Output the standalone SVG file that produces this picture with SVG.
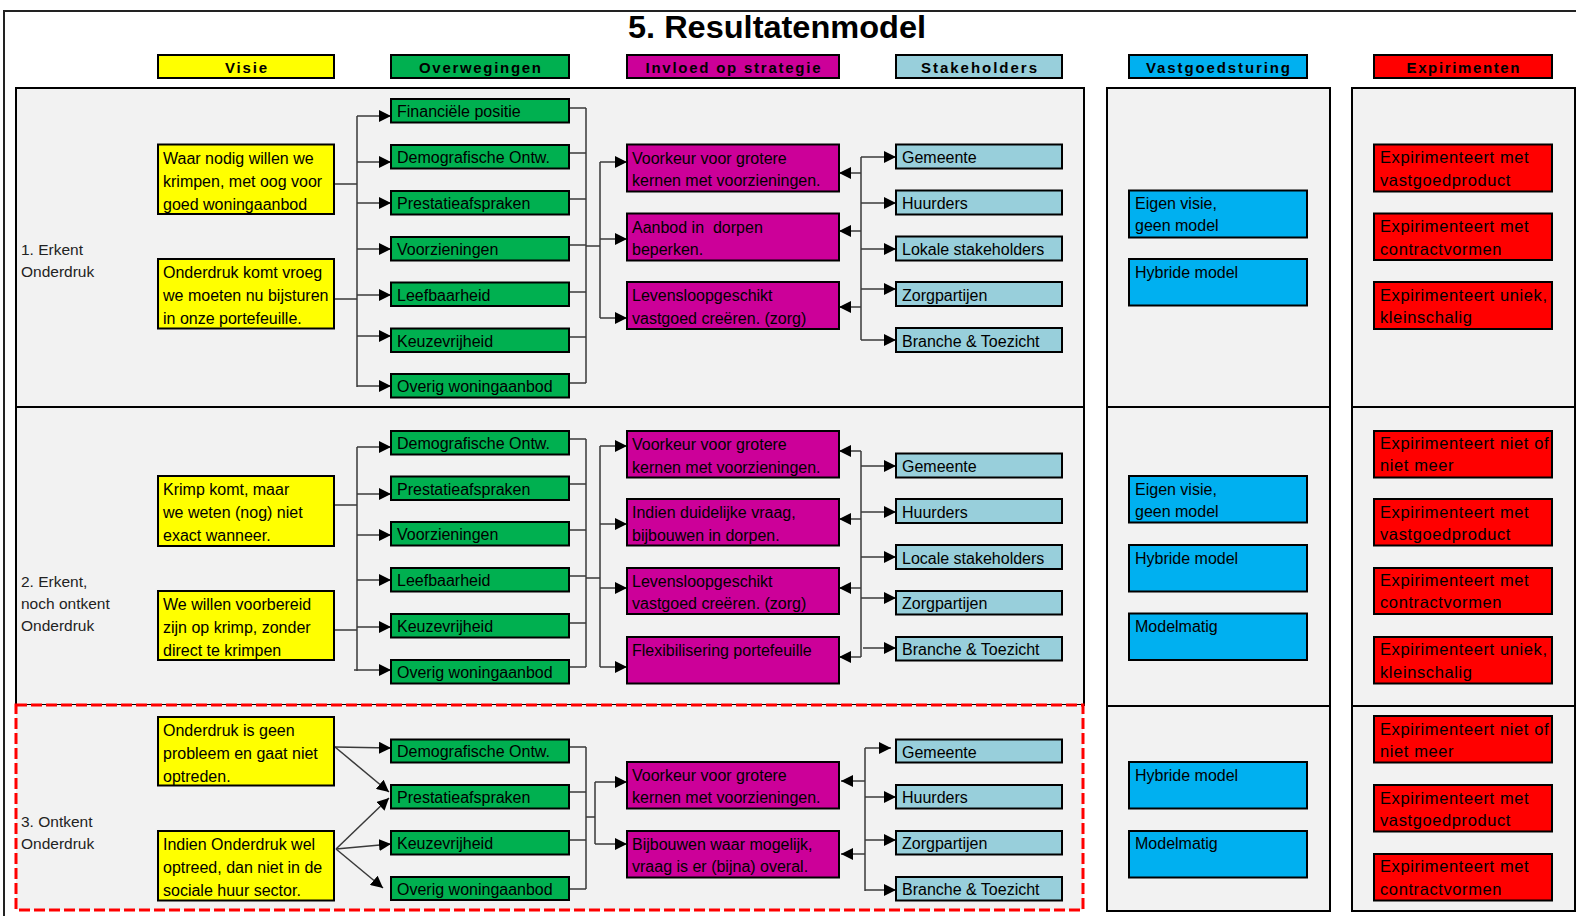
<svg xmlns="http://www.w3.org/2000/svg" width="1576" height="916" viewBox="0 0 1576 916">
<defs>
<marker id="ah" markerUnits="userSpaceOnUse" markerWidth="12" markerHeight="12" viewBox="0 0 12 12" refX="12" refY="6" orient="auto">
<path d="M0,0 L12,6 L0,12 Z" fill="#000"/>
</marker>
</defs>
<style>
text{font-family:"Liberation Sans",Arial,sans-serif;fill:#000}
.t{font-size:16px}
.e{font-size:16.5px;letter-spacing:0.6px}
.l{font-size:15.5px;fill:#222}
.h{font-size:15px;font-weight:bold;text-anchor:middle}
.ttl{font-size:31px;font-weight:bold;text-anchor:middle}
.b{stroke:#000;stroke-width:2}
.yel{fill:#ffff00}
.grn{fill:#00b050}
.mag{fill:#cc0099}
.stk{fill:#98cfdb}
.vas{fill:#00b0f0}
.exp{fill:#ff0000}
.pan{fill:#f2f2f2;stroke:#000;stroke-width:2}
.c path{fill:none;stroke:#3a3a3a;stroke-width:1.5}
.c path.a{marker-end:url(#ah)}
</style>
<rect x="0" y="0" width="1576" height="916" fill="#fff"/>
<path d="M4,916 V11 H1576" fill="none" stroke="#222" stroke-width="2"/>
<g id="title"><text class="ttl" x="777" y="37.5" textLength="298" lengthAdjust="spacingAndGlyphs">5. Resultatenmodel</text></g>

<g id="headers">
<g id="h-visie"><rect class="b yel" x="158" y="55" width="176" height="23"/><text class="h" x="246" y="72.5" textLength="42" lengthAdjust="spacing">Visie</text></g>
<g id="h-overwegingen"><rect class="b grn" x="391" y="55" width="178" height="23"/><text class="h" x="480" y="72.5" textLength="122" lengthAdjust="spacing">Overwegingen</text></g>
<g id="h-invloed"><rect class="b mag" x="627" y="55" width="212" height="23"/><text class="h" x="733" y="72.5" textLength="175" lengthAdjust="spacing">Invloed op strategie</text></g>
<g id="h-stakeholders"><rect class="b stk" x="896" y="55" width="166" height="23"/><text class="h" x="979" y="72.5" textLength="116" lengthAdjust="spacing">Stakeholders</text></g>
<g id="h-vastgoed"><rect class="b vas" x="1129" y="55" width="178" height="23"/><text class="h" x="1218" y="72.5" textLength="144" lengthAdjust="spacing">Vastgoedsturing</text></g>
<g id="h-exp"><rect class="b exp" x="1374" y="55" width="178" height="23"/><text class="h" x="1463" y="72.5" textLength="113" lengthAdjust="spacing">Expirimenten</text></g>
</g>

<g id="panels">
<rect class="pan" x="16" y="88" width="1068" height="319"/>
<rect class="pan" x="16" y="407" width="1068" height="298"/>
<rect x="16" y="705" width="1067" height="205" fill="#f2f2f2" stroke="#ff0000" stroke-width="3" stroke-dasharray="11 4"/>
<rect class="pan" x="1107" y="88" width="223" height="319"/>
<rect class="pan" x="1107" y="407" width="223" height="299"/>
<rect class="pan" x="1107" y="706" width="223" height="205"/>
<rect class="pan" x="1352" y="88" width="223" height="319"/>
<rect class="pan" x="1352" y="407" width="223" height="299"/>
<rect class="pan" x="1352" y="706" width="223" height="205"/>
</g>

<g id="row-labels">
<text class="l" x="21" y="255">1. Erkent</text><text class="l" x="21" y="277">Onderdruk</text>
<text class="l" x="21" y="587">2. Erkent,</text><text class="l" x="21" y="609">noch ontkent</text><text class="l" x="21" y="631">Onderdruk</text>
<text class="l" x="21" y="827">3. Ontkent</text><text class="l" x="21" y="849">Onderdruk</text>
</g>

<g class="c" id="connectors">
<path d="M334,184 H357 M334,299 H357 M357,116 V387"/>
<path class="a" d="M357,116 H391"/><path class="a" d="M357,162 H391"/><path class="a" d="M357,203 H391"/><path class="a" d="M357,249 H391"/><path class="a" d="M357,295 H391"/><path class="a" d="M357,336 H391"/><path class="a" d="M357,386 H391"/>
<path d="M569,108 H586 M569,153 H586 M569,199 H586 M569,245 H586 M569,292 H586 M569,337 H586 M569,383 H586 M586,108 V383 M586,246 H600 M600,162 V318"/>
<path class="a" d="M600,162 H627"/><path class="a" d="M600,239 H627"/><path class="a" d="M600,318 H627"/>
<path d="M861,157 V340"/>
<path class="a" d="M861,157 H896"/><path class="a" d="M861,203 H896"/><path class="a" d="M861,249 H896"/><path class="a" d="M861,289 H896"/><path class="a" d="M861,340 H896"/>
<path class="a" d="M861,173 H839"/><path class="a" d="M861,231 H839"/><path class="a" d="M861,307 H839"/>
<path d="M334,505 H357 M334,630 H357 M357,447 V671"/>
<path class="a" d="M357,447 H391"/><path class="a" d="M357,494 H391"/><path class="a" d="M357,535 H391"/><path class="a" d="M357,580 H391"/><path class="a" d="M357,627 H391"/><path class="a" d="M354,670 H391"/>
<path d="M569,439 H586 M569,484 H586 M569,530 H586 M569,576 H586 M569,623 H586 M569,667 H586 M586,439 V667 M586,578 H600 M600,446 V667"/>
<path class="a" d="M600,446 H627"/><path class="a" d="M600,524 H627"/><path class="a" d="M600,588 H627"/><path class="a" d="M600,667 H627"/>
<path d="M861,451 V657"/>
<path class="a" d="M861,466 H896"/><path class="a" d="M861,512 H896"/><path class="a" d="M861,557 H896"/><path class="a" d="M861,598 H896"/><path class="a" d="M863,648 H896"/>
<path class="a" d="M861,451 H839"/><path class="a" d="M861,519 H839"/><path class="a" d="M861,588 H839"/><path class="a" d="M861,657 H839"/>
<path class="a" d="M335,747 L391,748"/><path class="a" d="M335,747 L389,792"/><path class="a" d="M336,849 L389,798"/><path class="a" d="M336,849 L391,844"/><path class="a" d="M336,849 L383,888"/>
<path d="M569,747 H586 M569,792 H586 M569,840 H586 M569,889 H586 M586,747 V889 M586,817 H595 M595,782 V844"/>
<path class="a" d="M595,782 H627"/><path class="a" d="M595,844 H627"/>
<path d="M865,748 V891"/>
<path class="a" d="M865,748 H891"/><path class="a" d="M865,797 H896"/><path class="a" d="M865,840 H896"/><path class="a" d="M865,890 H896"/>
<path class="a" d="M865,781 H841"/><path class="a" d="M865,854 H841"/>
</g>

<g id="r1-visie-1"><rect class="b yel" x="158" y="144.5" width="176" height="69.5"/><text class="t" x="163" y="163.5">Waar nodig willen we</text><text class="t" x="163" y="186.5">krimpen, met oog voor</text><text class="t" x="163" y="209.5">goed woningaanbod</text></g>
<g id="r1-visie-2"><rect class="b yel" x="158" y="259" width="176" height="69.5"/><text class="t" x="163" y="278">Onderdruk komt vroeg</text><text class="t" x="163" y="301">we moeten nu bijsturen</text><text class="t" x="163" y="324">in onze portefeuille.</text></g>
<g id="r1-o-1"><rect class="b grn" x="391" y="99" width="178" height="23.5"/><text class="t" x="397" y="117">Financiële positie</text></g>
<g id="r1-o-2"><rect class="b grn" x="391" y="145" width="178" height="23.5"/><text class="t" x="397" y="163">Demografische Ontw.</text></g>
<g id="r1-o-3"><rect class="b grn" x="391" y="191" width="178" height="23.5"/><text class="t" x="397" y="209">Prestatieafspraken</text></g>
<g id="r1-o-4"><rect class="b grn" x="391" y="237" width="178" height="23.5"/><text class="t" x="397" y="255">Voorzieningen</text></g>
<g id="r1-o-5"><rect class="b grn" x="391" y="282.5" width="178" height="23.5"/><text class="t" x="397" y="300.5">Leefbaarheid</text></g>
<g id="r1-o-6"><rect class="b grn" x="391" y="328.5" width="178" height="23.5"/><text class="t" x="397" y="346.5">Keuzevrijheid</text></g>
<g id="r1-o-7"><rect class="b grn" x="391" y="374" width="178" height="23.5"/><text class="t" x="397" y="392">Overig woningaanbod</text></g>
<g id="r1-i-1"><rect class="b mag" x="627" y="144.5" width="212" height="47"/><text class="t" x="632" y="163.5">Voorkeur voor grotere</text><text class="t" x="632" y="186">kernen met voorzieningen.</text></g>
<g id="r1-i-2"><rect class="b mag" x="627" y="213.5" width="212" height="47"/><text class="t" x="632" y="232.5" xml:space="preserve">Aanbod in  dorpen</text><text class="t" x="632" y="255">beperken.</text></g>
<g id="r1-i-3"><rect class="b mag" x="627" y="282" width="212" height="47"/><text class="t" x="632" y="301">Levensloopgeschikt</text><text class="t" x="632" y="323.5">vastgoed creëren. (zorg)</text></g>
<g id="r1-s-1"><rect class="b stk" x="896" y="144.5" width="166" height="24"/><text class="t" x="902" y="163">Gemeente</text></g>
<g id="r1-s-2"><rect class="b stk" x="896" y="190.5" width="166" height="24"/><text class="t" x="902" y="209">Huurders</text></g>
<g id="r1-s-3"><rect class="b stk" x="896" y="236.5" width="166" height="24"/><text class="t" x="902" y="255">Lokale stakeholders</text></g>
<g id="r1-s-4"><rect class="b stk" x="896" y="282" width="166" height="24"/><text class="t" x="902" y="300.5">Zorgpartijen</text></g>
<g id="r1-s-5"><rect class="b stk" x="896" y="328" width="166" height="24"/><text class="t" x="902" y="346.5">Branche &amp; Toezicht</text></g>
<g id="r1-v-1"><rect class="b vas" x="1129" y="190.5" width="178" height="47"/><text class="t" x="1135" y="209">Eigen visie,</text><text class="t" x="1135" y="231">geen model</text></g>
<g id="r1-v-2"><rect class="b vas" x="1129" y="259" width="178" height="46.5"/><text class="t" x="1135" y="277.5">Hybride model</text></g>
<g id="r1-e-1"><rect class="b exp" x="1374" y="144.5" width="178" height="47"/><text class="e" x="1380" y="163">Expirimenteert met</text><text class="e" x="1380" y="185.5">vastgoedproduct</text></g>
<g id="r1-e-2"><rect class="b exp" x="1374" y="213.5" width="178" height="46.5"/><text class="e" x="1380" y="232">Expirimenteert met</text><text class="e" x="1380" y="254.5">contractvormen</text></g>
<g id="r1-e-3"><rect class="b exp" x="1374" y="282" width="178" height="47"/><text class="e" x="1380" y="300.5">Expirimenteert uniek,</text><text class="e" x="1380" y="323">kleinschalig</text></g>

<g id="r2-visie-1"><rect class="b yel" x="158" y="476" width="176" height="70"/><text class="t" x="163" y="495">Krimp komt, maar</text><text class="t" x="163" y="518">we weten (nog) niet</text><text class="t" x="163" y="541">exact wanneer.</text></g>
<g id="r2-visie-2"><rect class="b yel" x="158" y="591" width="176" height="69"/><text class="t" x="163" y="610">We willen voorbereid</text><text class="t" x="163" y="633">zijn op krimp, zonder</text><text class="t" x="163" y="656">direct te krimpen</text></g>
<g id="r2-o-1"><rect class="b grn" x="391" y="431" width="178" height="23.5"/><text class="t" x="397" y="449">Demografische Ontw.</text></g>
<g id="r2-o-2"><rect class="b grn" x="391" y="476.5" width="178" height="23.5"/><text class="t" x="397" y="494.5">Prestatieafspraken</text></g>
<g id="r2-o-3"><rect class="b grn" x="391" y="522" width="178" height="23.5"/><text class="t" x="397" y="540">Voorzieningen</text></g>
<g id="r2-o-4"><rect class="b grn" x="391" y="568" width="178" height="23.5"/><text class="t" x="397" y="586">Leefbaarheid</text></g>
<g id="r2-o-5"><rect class="b grn" x="391" y="614" width="178" height="23.5"/><text class="t" x="397" y="632">Keuzevrijheid</text></g>
<g id="r2-o-6"><rect class="b grn" x="391" y="660" width="178" height="23.5"/><text class="t" x="397" y="678">Overig woningaanbod</text></g>
<g id="r2-i-1"><rect class="b mag" x="627" y="431" width="212" height="46.5"/><text class="t" x="632" y="450">Voorkeur voor grotere</text><text class="t" x="632" y="472.5">kernen met voorzieningen.</text></g>
<g id="r2-i-2"><rect class="b mag" x="627" y="499" width="212" height="46.5"/><text class="t" x="632" y="518">Indien duidelijke vraag,</text><text class="t" x="632" y="540.5">bijbouwen in dorpen.</text></g>
<g id="r2-i-3"><rect class="b mag" x="627" y="568" width="212" height="46"/><text class="t" x="632" y="587">Levensloopgeschikt</text><text class="t" x="632" y="608.5">vastgoed creëren. (zorg)</text></g>
<g id="r2-i-4"><rect class="b mag" x="627" y="637" width="212" height="46.5"/><text class="t" x="632" y="656">Flexibilisering portefeuille</text></g>
<g id="r2-s-1"><rect class="b stk" x="896" y="453.5" width="166" height="24"/><text class="t" x="902" y="472">Gemeente</text></g>
<g id="r2-s-2"><rect class="b stk" x="896" y="499" width="166" height="24"/><text class="t" x="902" y="517.5">Huurders</text></g>
<g id="r2-s-3"><rect class="b stk" x="896" y="545" width="166" height="24"/><text class="t" x="902" y="563.5">Locale stakeholders</text></g>
<g id="r2-s-4"><rect class="b stk" x="896" y="591" width="166" height="23.5"/><text class="t" x="902" y="609">Zorgpartijen</text></g>
<g id="r2-s-5"><rect class="b stk" x="896" y="637" width="166" height="23.5"/><text class="t" x="902" y="655">Branche &amp; Toezicht</text></g>
<g id="r2-v-1"><rect class="b vas" x="1129" y="476" width="178" height="46.5"/><text class="t" x="1135" y="494.5">Eigen visie,</text><text class="t" x="1135" y="516.5">geen model</text></g>
<g id="r2-v-2"><rect class="b vas" x="1129" y="545" width="178" height="46.5"/><text class="t" x="1135" y="563.5">Hybride model</text></g>
<g id="r2-v-3"><rect class="b vas" x="1129" y="613.5" width="178" height="46.5"/><text class="t" x="1135" y="631.5">Modelmatig</text></g>
<g id="r2-e-1"><rect class="b exp" x="1374" y="431" width="178" height="46.5"/><text class="e" x="1380" y="449">Expirimenteert niet of</text><text class="e" x="1380" y="471">niet meer</text></g>
<g id="r2-e-2"><rect class="b exp" x="1374" y="499" width="178" height="46.5"/><text class="e" x="1380" y="517.5">Expirimenteert met</text><text class="e" x="1380" y="540">vastgoedproduct</text></g>
<g id="r2-e-3"><rect class="b exp" x="1374" y="568" width="178" height="46"/><text class="e" x="1380" y="586">Expirimenteert met</text><text class="e" x="1380" y="607.5">contractvormen</text></g>
<g id="r2-e-4"><rect class="b exp" x="1374" y="637" width="178" height="46.5"/><text class="e" x="1380" y="655">Expirimenteert uniek,</text><text class="e" x="1380" y="678">kleinschalig</text></g>

<g id="r3-visie-1"><rect class="b yel" x="158" y="717" width="176" height="68.5"/><text class="t" x="163" y="736">Onderdruk is geen</text><text class="t" x="163" y="759">probleem en gaat niet</text><text class="t" x="163" y="782">optreden.</text></g>
<g id="r3-visie-2"><rect class="b yel" x="158" y="831" width="176" height="69.5"/><text class="t" x="163" y="850">Indien Onderdruk wel</text><text class="t" x="163" y="873">optreed, dan niet in de</text><text class="t" x="163" y="896">sociale huur sector.</text></g>
<g id="r3-o-1"><rect class="b grn" x="391" y="739.5" width="178" height="23"/><text class="t" x="397" y="757">Demografische Ontw.</text></g>
<g id="r3-o-2"><rect class="b grn" x="391" y="785" width="178" height="23.5"/><text class="t" x="397" y="803">Prestatieafspraken</text></g>
<g id="r3-o-3"><rect class="b grn" x="391" y="831" width="178" height="23.5"/><text class="t" x="397" y="849">Keuzevrijheid</text></g>
<g id="r3-o-4"><rect class="b grn" x="391" y="877" width="178" height="23"/><text class="t" x="397" y="895">Overig woningaanbod</text></g>
<g id="r3-i-1"><rect class="b mag" x="627" y="762" width="212" height="46.5"/><text class="t" x="632" y="781">Voorkeur voor grotere</text><text class="t" x="632" y="803">kernen met voorzieningen.</text></g>
<g id="r3-i-2"><rect class="b mag" x="627" y="831" width="212" height="46.5"/><text class="t" x="632" y="850">Bijbouwen waar mogelijk,</text><text class="t" x="632" y="872">vraag is er (bijna) overal.</text></g>
<g id="r3-s-1"><rect class="b stk" x="896" y="739.5" width="166" height="23"/><text class="t" x="902" y="757.5">Gemeente</text></g>
<g id="r3-s-2"><rect class="b stk" x="896" y="785" width="166" height="23.5"/><text class="t" x="902" y="803">Huurders</text></g>
<g id="r3-s-3"><rect class="b stk" x="896" y="831" width="166" height="23.5"/><text class="t" x="902" y="849">Zorgpartijen</text></g>
<g id="r3-s-4"><rect class="b stk" x="896" y="877" width="166" height="23.5"/><text class="t" x="902" y="895">Branche &amp; Toezicht</text></g>
<g id="r3-v-1"><rect class="b vas" x="1129" y="762" width="178" height="46.5"/><text class="t" x="1135" y="780.5">Hybride model</text></g>
<g id="r3-v-2"><rect class="b vas" x="1129" y="831" width="178" height="46.5"/><text class="t" x="1135" y="849">Modelmatig</text></g>
<g id="r3-e-1"><rect class="b exp" x="1374" y="716" width="178" height="46.5"/><text class="e" x="1380" y="734.5">Expirimenteert niet of</text><text class="e" x="1380" y="756.5">niet meer</text></g>
<g id="r3-e-2"><rect class="b exp" x="1374" y="785" width="178" height="46.5"/><text class="e" x="1380" y="803.5">Expirimenteert met</text><text class="e" x="1380" y="826">vastgoedproduct</text></g>
<g id="r3-e-3"><rect class="b exp" x="1374" y="854" width="178" height="46.5"/><text class="e" x="1380" y="872">Expirimenteert met</text><text class="e" x="1380" y="894.5">contractvormen</text></g>
</svg>
